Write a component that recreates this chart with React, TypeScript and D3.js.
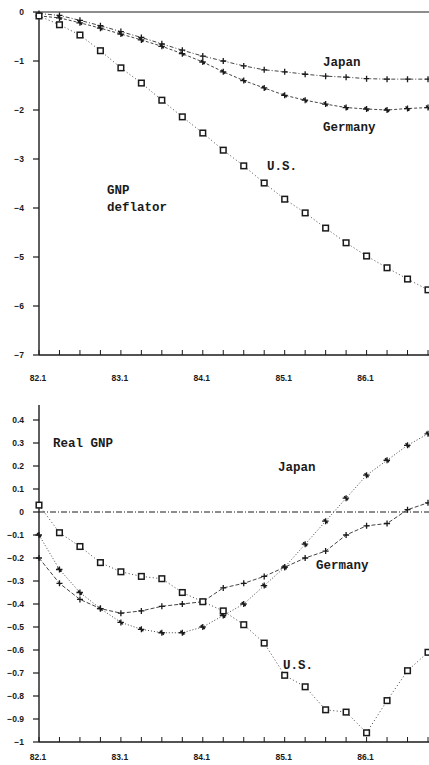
import { useEffect, useRef } from "react";
import * as d3 from "d3";

// quarters 82.1 .. 86.4
const quarters = [
  "82.1", "82.2", "82.3", "82.4",
  "83.1", "83.2", "83.3", "83.4",
  "84.1", "84.2", "84.3", "84.4",
  "85.1", "85.2", "85.3", "85.4",
  "86.1", "86.2", "86.3", "86.4",
];
const xTickLabels = ["82.1", "83.1", "84.1", "85.1", "86.1"];

// GNP deflator (top panel)
const deflatorUS = [-0.08, -0.26, -0.47, -0.79, -1.14, -1.45, -1.8, -2.14, -2.47, -2.82, -3.14, -3.49, -3.82, -4.1, -4.41, -4.71, -4.98, -5.22, -5.45, -5.67];
const deflatorJapan = [-0.03, -0.07, -0.17, -0.28, -0.4, -0.52, -0.65, -0.78, -0.9, -1.0, -1.1, -1.18, -1.22, -1.27, -1.31, -1.33, -1.36, -1.37, -1.37, -1.37];
const deflatorGermany = [-0.08, -0.12, -0.22, -0.33, -0.45, -0.57, -0.7, -0.85, -1.02, -1.22, -1.4, -1.55, -1.7, -1.8, -1.88, -1.95, -1.98, -2.0, -1.97, -1.95];
const deflatorTicks = [0, -1, -2, -3, -4, -5, -6, -7];

// Real GNP (bottom panel)
const realUS = [0.03, -0.09, -0.15, -0.22, -0.26, -0.28, -0.29, -0.35, -0.39, -0.43, -0.49, -0.57, -0.71, -0.76, -0.86, -0.87, -0.96, -0.82, -0.69, -0.61];
const realJapan = [-0.1, -0.25, -0.35, -0.42, -0.48, -0.51, -0.525, -0.525, -0.5, -0.45, -0.4, -0.32, -0.24, -0.14, -0.04, 0.06, 0.16, 0.225, 0.29, 0.34];
const realGermany = [-0.2, -0.31, -0.38, -0.42, -0.44, -0.43, -0.41, -0.4, -0.39, -0.33, -0.31, -0.28, -0.24, -0.2, -0.17, -0.1, -0.06, -0.05, 0.01, 0.04];
const realTicks = [0.4, 0.3, 0.2, 0.1, 0, -0.1, -0.2, -0.3, -0.4, -0.5, -0.6, -0.7, -0.8, -0.9, -1];

const INK = "#1a1a1a";
const tickFont = "'Liberation Sans', Arial, sans-serif";
const noteFont = "'Liberation Mono', 'Courier New', monospace";

const App = () => {
  const svgRef = useRef<SVGSVGElement | null>(null);

  useEffect(() => {
    const width = 429;
    const height = 765;
    const svg = d3.select(svgRef.current).attr("width", width).attr("height", height);
    svg.selectAll("*").remove();

    const x = d3.scaleLinear().domain([0, quarters.length - 1]).range([39, 428]);

    const drawMarker = (g: any, kind: string, cx: number, cy: number) => {
      if (kind === "square") {
        g.append("rect")
          .attr("x", cx - 2.8)
          .attr("y", cy - 2.8)
          .attr("width", 5.6)
          .attr("height", 5.6)
          .attr("fill", "#fff")
          .attr("stroke", INK)
          .attr("stroke-width", 1.5);
      } else if (kind === "plus") {
        g.append("path")
          .attr("d", `M${cx - 3},${cy}H${cx + 3}M${cx},${cy - 3}V${cy + 3}`)
          .attr("stroke", INK)
          .attr("stroke-width", 1.3);
      } else {
        g.append("path")
          .attr("d", `M${cx - 3.5},${cy}H${cx + 3}M${cx},${cy - 3}V${cy + 3}M${cx - 2},${cy - 2}L${cx + 2},${cy + 2}`)
          .attr("stroke", INK)
          .attr("stroke-width", 1.3);
      }
    };

    const drawPanel = (opts: {
      y: d3.ScaleLinear<number, number>;
      ticks: number[];
      axisTop: number;
      axisBottom: number;
      labelGap: number;
      fmt: (v: number) => string;
      series: { values: number[]; marker: string; dash: string }[];
      zeroDash: string;
    }) => {
      const { y, ticks, axisTop, axisBottom, labelGap, fmt, series, zeroDash } = opts;
      const g = svg.append("g");

      // zero line
      g.append("line")
        .attr("x1", x(0))
        .attr("x2", width)
        .attr("y1", y(0))
        .attr("y2", y(0))
        .attr("stroke", INK)
        .attr("stroke-width", 1)
        .attr("stroke-dasharray", zeroDash);

      // y axis
      g.append("line")
        .attr("x1", x(0))
        .attr("x2", x(0))
        .attr("y1", axisTop)
        .attr("y2", axisBottom)
        .attr("stroke", INK)
        .attr("stroke-width", 1.4);

      ticks.forEach((t) => {
        g.append("line")
          .attr("x1", x(0) - 6)
          .attr("x2", x(0))
          .attr("y1", y(t))
          .attr("y2", y(t))
          .attr("stroke", INK)
          .attr("stroke-width", 1.2);
        g.append("text")
          .attr("x", x(0) - 15)
          .attr("y", y(t))
          .attr("dy", "0.35em")
          .attr("text-anchor", "end")
          .attr("font-family", tickFont)
          .attr("font-weight", "bold")
          .attr("font-size", 8.5)
          .attr("fill", INK)
          .text(fmt(t));
      });

      // x axis
      g.append("line")
        .attr("x1", x(0))
        .attr("x2", width)
        .attr("y1", axisBottom)
        .attr("y2", axisBottom)
        .attr("stroke", INK)
        .attr("stroke-width", 1.4);

      quarters.forEach((q, i) => {
        g.append("line")
          .attr("x1", x(i))
          .attr("x2", x(i))
          .attr("y1", axisBottom)
          .attr("y2", axisBottom - 5)
          .attr("stroke", INK)
          .attr("stroke-width", 1);
        if (xTickLabels.includes(q)) {
          g.append("text")
            .attr("x", x(i) - 1)
            .attr("y", axisBottom + labelGap)
            .attr("text-anchor", "middle")
            .attr("font-family", tickFont)
            .attr("font-weight", "bold")
            .attr("font-size", 8.5)
            .attr("fill", INK)
            .text(q);
        }
      });

      // series
      series.forEach((s) => {
        const line = d3
          .line<number>()
          .x((_, i) => x(i))
          .y((d) => y(d));
        g.append("path")
          .datum(s.values)
          .attr("fill", "none")
          .attr("stroke", "#444")
          .attr("stroke-width", 1)
          .attr("stroke-dasharray", s.dash)
          .attr("d", line);
        s.values.forEach((v, i) => drawMarker(g, s.marker, x(i), y(v)));
      });
      return g;
    };

    const label = (g: any, tx: number, ty: number, txt: string) => {
      g.append("text")
        .attr("x", tx)
        .attr("y", ty)
        .attr("dy", "0.35em")
        .attr("font-family", noteFont)
        .attr("font-weight", "bold")
        .attr("font-size", 12.5)
        .attr("fill", INK)
        .text(txt);
    };

    // Top panel: GNP deflator
    const yTop = d3.scaleLinear().domain([0, -7]).range([12, 355]);
    const top = drawPanel({
      y: yTop,
      ticks: deflatorTicks,
      axisTop: 12,
      axisBottom: yTop(-7),
      labelGap: 26,
      fmt: (v) => (v === 0 ? "0" : `\u2212${Math.abs(v)}`),
      zeroDash: "none",
      series: [
        { values: deflatorJapan, marker: "plus", dash: "4,2,1,2" },
        { values: deflatorGermany, marker: "star", dash: "3,2" },
        { values: deflatorUS, marker: "square", dash: "1,2.5" },
      ],
    });
    label(top, 323, 62, "Japan");
    label(top, 323, 127, "Germany");
    label(top, 267, 166, "U.S.");
    label(top, 107, 190, "GNP");
    label(top, 107, 207, "deflator");

    // Bottom panel: Real GNP
    const yBot = d3.scaleLinear().domain([0.4, -1]).range([420, 742]);
    const bot = drawPanel({
      y: yBot,
      ticks: realTicks,
      axisTop: 405,
      axisBottom: yBot(-1),
      labelGap: 18,
      fmt: (v) => (v === 0 ? "0" : v < 0 ? `\u2212${Math.abs(v)}` : `${v}`),
      zeroDash: "6,2,1,2",
      series: [
        { values: realJapan, marker: "star", dash: "1,2" },
        { values: realGermany, marker: "plus", dash: "4,2" },
        { values: realUS, marker: "square", dash: "1,2.5" },
      ],
    });
    label(bot, 53, 443, "Real GNP");
    label(bot, 278, 467, "Japan");
    label(bot, 316, 565, "Germany");
    label(bot, 283, 665, "U.S.");
  }, []);

  return (
    <div style={{ position: "absolute", left: 0, top: 0, background: "#fff" }}>
      <svg ref={svgRef} style={{ display: "block" }}></svg>
    </div>
  );
};

export default App;
